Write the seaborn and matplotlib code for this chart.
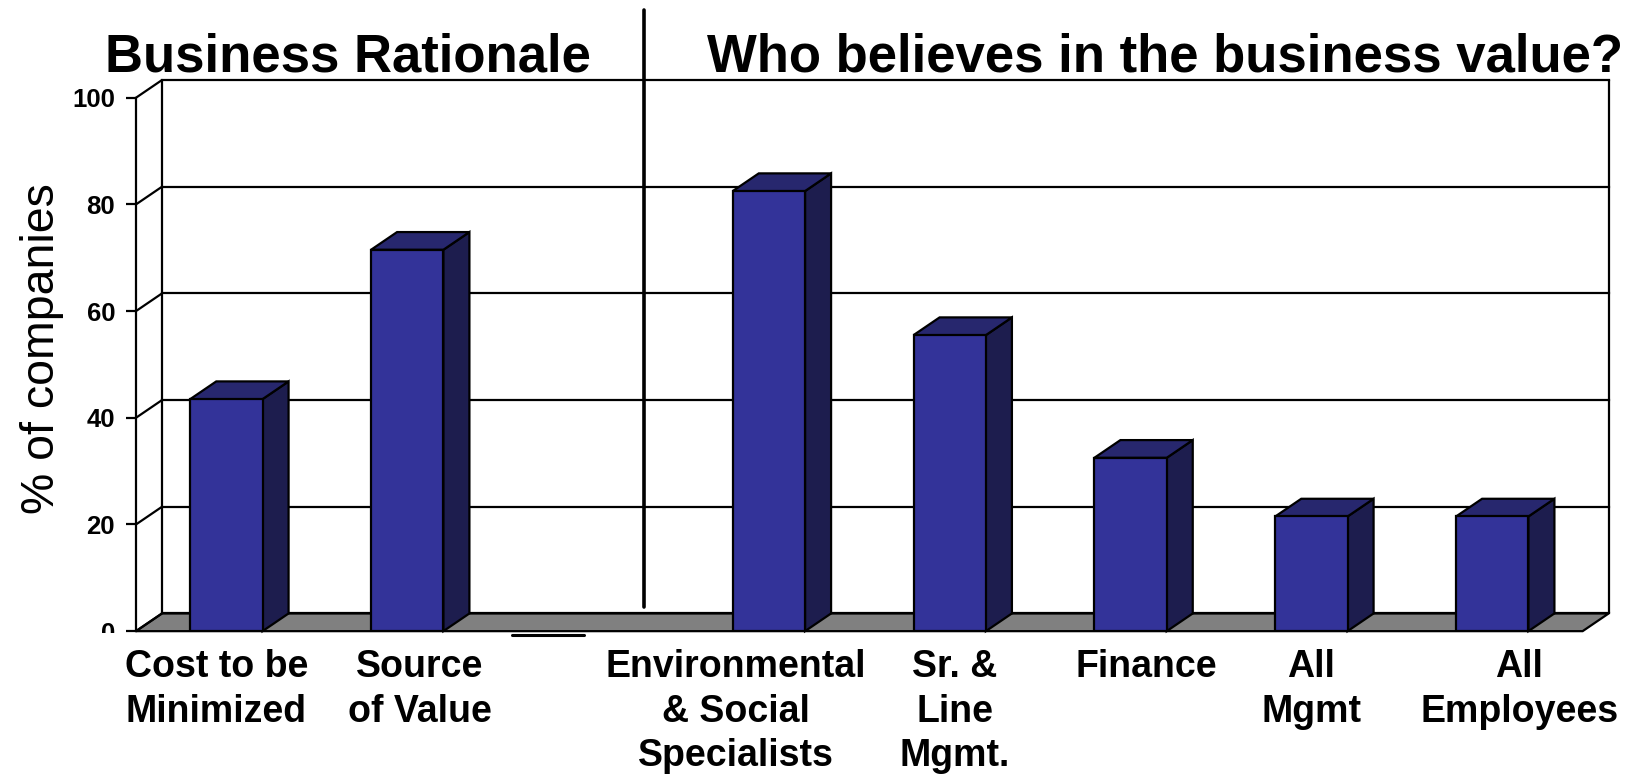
import numpy as np
import pandas as pd
import matplotlib
matplotlib.use("Agg")
import matplotlib.pyplot as plt
import matplotlib.transforms as mtransforms
from matplotlib.patches import Polygon
from matplotlib.lines import Line2D
import seaborn as sns

# Categories (the blank slot separates the two groups)
categories = ["Cost to be\nMinimized", "Source\nof Value", " ",
              "Environmental\n& Social\nSpecialists", "Sr. &\nLine\nMgmt.",
              "Finance", "All\nMgmt", "All\nEmployees"]
bar_categories = ["Cost to be\nMinimized", "Source\nof Value",
                  "Environmental\n& Social\nSpecialists", "Sr. &\nLine\nMgmt.",
                  "Finance", "All\nMgmt", "All\nEmployees"]
pct_companies = [43.5, 71.5, 82.5, 55.5, 32.5, 21.5, 21.5]
y_ticks = [0, 20, 40, 60, 80, 100]

FRONT = "#333399"
TOP = "#27276E"
SIDE = "#1D1D4E"
FLOOR = "#808080"

sns.set_style("white")
plt.rcParams["font.family"] = ["Liberation Sans", "DejaVu Sans"]
plt.rcParams["text.color"] = "black"
plt.rcParams["axes.labelcolor"] = "black"
plt.rcParams["xtick.color"] = "black"
plt.rcParams["ytick.color"] = "black"

fig = plt.figure(figsize=(16.4, 7.77), dpi=100)
ax = fig.add_axes([0.0829, 0.1877, 0.9809 - 0.0829, 0.897 - 0.1877])

df = pd.DataFrame({"category": bar_categories, "pct": pct_companies})
sns.barplot(data=df, x="category", y="pct", order=categories, color=FRONT,
            saturation=1, width=0.4, edgecolor="black", linewidth=1.6,
            ax=ax, zorder=5)

# perspective depth in data units
n = len(categories)
dx, dy = 0.144, 3.32
x0, x1 = -0.5, n - 0.5
ax.set_xlim(x0, x1 + dx)
ax.set_ylim(0, 100 + dy)

lw = 1.6
# floor
ax.add_patch(Polygon([(x0, 0), (x1, 0), (x1 + dx, dy), (x0 + dx, dy)],
                     closed=True, facecolor=FLOOR, edgecolor="black",
                     linewidth=lw, zorder=1, clip_on=False))
# back wall gridlines, side wall diagonals and wall edges
for v in y_ticks:
    ax.plot([x0 + dx, x1 + dx], [v + dy, v + dy], color="black", lw=lw,
            zorder=2, clip_on=False, solid_capstyle="projecting")
    ax.plot([x0, x0 + dx], [v, v + dy], color="black", lw=lw, zorder=2,
            clip_on=False)
ax.plot([x0 + dx, x0 + dx], [dy, 100 + dy], color="black", lw=lw, zorder=2,
        clip_on=False)
ax.plot([x1 + dx, x1 + dx], [dy, 100 + dy], color="black", lw=lw, zorder=2,
        clip_on=False)

# side and top faces of each column
for patch in list(ax.patches):
    if isinstance(patch, Polygon):
        continue
    bx, bw, bh = patch.get_x(), patch.get_width(), patch.get_height()
    if not bh or bh <= 0:
        continue
    r = bx + bw
    ax.add_patch(Polygon([(r, 0), (r + dx, dy), (r + dx, bh + dy), (r, bh)],
                         closed=True, facecolor=SIDE, edgecolor="black",
                         linewidth=lw, zorder=4, clip_on=False))
    ax.add_patch(Polygon([(bx, bh), (r, bh), (r + dx, bh + dy), (bx + dx, bh + dy)],
                         closed=True, facecolor=TOP, edgecolor="black",
                         linewidth=lw, zorder=4, clip_on=False))

# axes styling
for s in ["top", "right", "bottom"]:
    ax.spines[s].set_visible(False)
ax.spines["left"].set_bounds(0, 100)
ax.spines["left"].set_linewidth(lw)
ax.spines["left"].set_color("black")
ax.spines["left"].set_zorder(6)
ax.set_yticks(y_ticks)
ax.set_yticklabels([str(t) for t in y_ticks], fontsize=18.5, fontweight="bold")
ax.tick_params(axis="y", direction="out", length=7, width=lw, pad=8,
               colors="black", left=True)
ax.set_xticks(range(n))
ax.set_xticklabels(categories, fontsize=27, fontweight="bold",
                   linespacing=1.3)
ax.tick_params(axis="x", length=0, pad=13)
ax.set_xlabel("")
ax.set_ylabel("")
ax.grid(False)

# wrapped category labels sit slightly off their column centres
label_shift_px = [-10, 12.5, 0, -33, 5, 16, 0, 27]
for lab, sh in zip(ax.get_xticklabels(), label_shift_px):
    lab.set_transform(lab.get_transform() +
                      mtransforms.ScaledTranslation(sh / 100, 0, fig.dpi_scale_trans))

# the lowest tick label is partly hidden below the floor line
zero_lab = ax.get_yticklabels()[0]
zero_lab.set_clip_box(mtransforms.Bbox([[0, 144], [1640, 777]]))
zero_lab.set_clip_on(True)

fig.text(0.0256, 0.5508, "% of companies", rotation=90, fontsize=33.5,
         ha="center", va="center")
fig.text(0.0638, 0.9086, "Business Rationale", fontsize=38,
         fontweight="bold", ha="left", va="baseline")
fig.text(0.4311, 0.9086, "Who believes in the business value?", fontsize=38,
         fontweight="bold", ha="left", va="baseline")

# divider between the two groups
fig.add_artist(Line2D([0.3927, 0.3927], [0.2193, 0.9865], color="black",
                      lw=2.6, transform=fig.transFigure))
fig.add_artist(Line2D([0.3122, 0.3561], [0.1828, 0.1828], color="black",
                      lw=2.2, transform=fig.transFigure))

fig.savefig("out.png", dpi=100, facecolor="white")
